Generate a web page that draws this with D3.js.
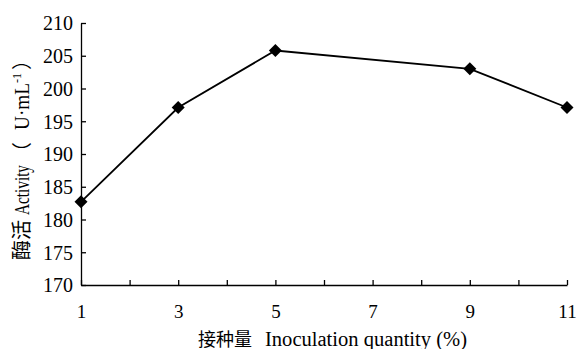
<!DOCTYPE html>
<html>
<head>
<meta charset="utf-8">
<script src="https://cdn.jsdelivr.net/npm/d3@7"></script>
<style>
  body { margin: 0; background: #fff; }
  svg text { font-family: "Liberation Serif", "Noto Sans CJK SC", serif; fill: #000; }
</style>
</head>
<body>
<svg id="chart" width="577" height="349"></svg>
<script>
// inoculation quantity (%) and enzyme activity (U/mL)
let quantities = [1, 3, 5, 9, 11];
let activity = [182.7, 197.1, 205.8, 203.0, 197.1];
let xTicks = [1, 3, 5, 7, 9, 11];
let yTicks = [170, 175, 180, 185, 190, 195, 200, 205, 210];

let svg = d3.select("#chart");
let margin = {top: 23, right: 10, bottom: 64, left: 81};
let width = 577 - margin.left - margin.right;
let height = 349 - margin.top - margin.bottom;
let g = svg.append("g").attr("transform", "translate(" + margin.left + "," + margin.top + ")");

let x = d3.scaleLinear().domain([1, 11]).range([0, width]);
let y = d3.scaleLinear().domain([170, 210]).range([height, 0]);

// x axis, minor ticks every 1, labels on odd values
let xAxis = g.append("g")
    .attr("transform", "translate(0," + height + ")")
    .call(d3.axisBottom(x).tickValues(d3.range(1, 12)).tickSizeInner(-5).tickSizeOuter(0)
        .tickFormat(d => xTicks.includes(d) ? d : ""));
xAxis.selectAll("text").attr("dy", 0).attr("y", 33).attr("font-size", 19);

let yAxis = g.append("g")
    .call(d3.axisLeft(y).tickValues(yTicks).tickSizeInner(-5).tickSizeOuter(0));
yAxis.selectAll("text").attr("x", -8).attr("dy", "0.34em").attr("font-size", 20);

svg.selectAll(".domain, .tick line").attr("stroke", "#000").attr("stroke-width", 1.3);

let points = quantities.map((q, i) => ({q: q, v: activity[i]}));

g.append("path")
    .datum(points)
    .attr("fill", "none")
    .attr("stroke", "#000")
    .attr("stroke-width", 1.8)
    .attr("d", d3.line().x(d => x(d.q)).y(d => y(d.v)));

g.selectAll(".pt")
    .data(points)
    .enter().append("path")
    .attr("class", "pt")
    .attr("transform", d => "translate(" + x(d.q) + "," + y(d.v) + ")")
    .attr("d", "M0,-6.5L6.5,0L0,6.5L-6.5,0Z")
    .attr("fill", "#000");

// x axis title
let xlab = svg.append("text")
    .attr("x", 198)
    .attr("y", 346);
xlab.append("tspan").attr("font-size", 18).text("接种量");
xlab.append("tspan").attr("font-size", 20).attr("dx", 13)
    .attr("textLength", 202).attr("lengthAdjust", "spacingAndGlyphs")
    .text("Inoculation quantity (%)");

// y axis title
let ylab = svg.append("text")
    .attr("transform", "translate(29,260) rotate(-90)")
    .attr("font-size", 20);
ylab.append("tspan").text("酶活");
ylab.append("tspan").attr("dx", 5)
    .attr("textLength", 50).attr("lengthAdjust", "spacingAndGlyphs").text("Activity");
ylab.append("tspan").attr("dx", 3).text("（");
ylab.append("tspan").attr("dx", 12)
    .attr("textLength", 47).attr("lengthAdjust", "spacingAndGlyphs").text("U·mL");
ylab.append("tspan").attr("font-size", 12).attr("dy", -8).text("-1");
ylab.append("tspan").attr("dx", 3).attr("dy", 8).text("）");
</script>
</body>
</html>
